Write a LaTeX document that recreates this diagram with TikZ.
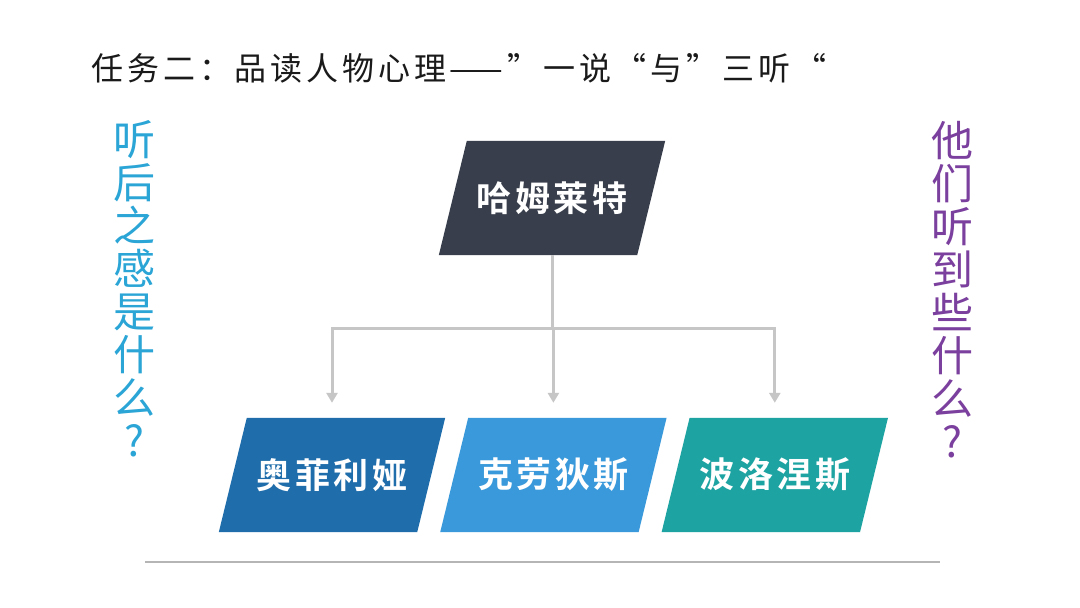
\documentclass[tikz,border=0pt]{standalone}
\usepackage{fontspec}
\setmainfont{Noto Sans CJK SC}
\newfontfamily\cardfont[LetterSpace=10]{Noto Sans CJK SC Bold}
\newfontfamily\titlefont[LetterSpace=12]{Noto Sans CJK SC}
\usetikzlibrary{positioning,arrows.meta,calc,backgrounds}

\definecolor{slate}{HTML}{383E4B}
\definecolor{ophblue}{HTML}{1F6DAA}
\definecolor{claublue}{HTML}{3A99DA}
\definecolor{poloteal}{HTML}{1CA3A2}
\definecolor{linegray}{HTML}{C6C6C6}
\definecolor{rulegray}{HTML}{B5B5B5}
\definecolor{asktext}{HTML}{2AA5D6}
\definecolor{heardtext}{HTML}{7B3F9E}
\definecolor{titletext}{HTML}{1A1A1A}

\begin{document}
\begin{tikzpicture}[x=1pt, y=-1pt,
  card/.style={rectangle, minimum width=198pt, minimum height=114pt,
    inner sep=0pt, text=white, font=\cardfont\fontsize{35}{35}\selectfont},
  link/.style={line width=3pt, draw=linegray},
  arr/.style={link, -{Triangle[width=11pt,length=10pt]}, shorten >=15pt},
  side/.style={align=center, font=\fontsize{42}{43}\selectfont},
]
\useasboundingbox (0,0) rectangle (1080,608);

% title
\node[anchor=west, text=titletext, font=\titlefont\fontsize{32}{32}\selectfont] (title) at (88,68)
  {任务二：品读人物心理——”一说“与”三听“};

% side questions
\node[side, text=asktext] (after) at (134,289) {听\\后\\之\\感\\是\\什\\么\\?};
\node[side, text=heardtext] (heard) at (952,290) {他\\们\\听\\到\\些\\什\\么\\?};

% characters
\node[card] (hamlet) at (552,198) {哈姆莱特};
\node[card] (ophelia) at (332,475) {奥菲利娅};
\node[card, right=23pt of ophelia] (claudius) {克劳狄斯};
\node[card, right=23pt of claudius] (polonius) {波洛涅斯};

% page and slanted plates behind the names
\begin{scope}[on background layer]
\fill[white] (0,0) rectangle (1080,608);
\foreach \n/\c in {hamlet/slate, ophelia/ophblue, claudius/claublue, polonius/poloteal}
  \fill[\c] ($(\n.north west)+(14,0)$) -- ($(\n.north east)+(14,0)$)
    -- ($(\n.south east)+(-14,0)$) -- ($(\n.south west)+(-14,0)$) -- cycle;
\end{scope}

% connectors
\coordinate[below=73pt of hamlet.south] (fork);
\draw[link] (hamlet.south) -- (fork);
\draw[arr] (fork) -| (ophelia.north);
\draw[arr] (fork) -- (fork -| claudius.north) -- (claudius.north);
\draw[arr] (fork) -| (polonius.north);

% bottom rule
\coordinate (ruleL) at (145,562);
\coordinate (ruleR) at (940,562);
\draw[line width=1.6pt, rulegray] (ruleL) -- (ruleR);
\end{tikzpicture}
\end{document}
